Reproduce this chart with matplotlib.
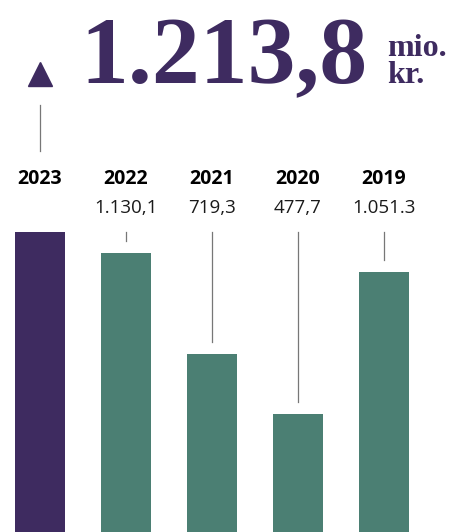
import matplotlib
matplotlib.use("Agg")
import matplotlib.pyplot as plt

# data
years = ["2023", "2022", "2021", "2020", "2019"]
values = [1213.8, 1130.1, 719.3, 477.7, 1051.3]
value_labels = ["", "1.130,1", "719,3", "477,7", "1.051.3"]
headline = "1.213,8"
unit = "mio.\nkr."

purple = "#3e2b60"
teal = "#4b7f73"
colors = [purple] + [teal] * 4

W, H = 464, 532
fig = plt.figure(figsize=(W / 100, H / 100), dpi=100)
ax = fig.add_axes([0, 0, 1, 1])
ax.set_axis_off()

px_per_unit = 300 / 1213.8  # 2023 bar is ~300px tall
ax.set_xlim(-40 / 86, (W - 40) / 86)
ax.set_ylim(0, H / px_per_unit)

x = list(range(len(years)))
ax.bar(x, values, width=0.58, color=colors)


def fy(py):  # pixel y (from top) -> figure fraction
    return 1 - py / H


def dy(py):  # pixel y (from top) -> data y
    return (H - py) / px_per_unit


# year labels, value labels, connector lines
for i, (yr, v, lab) in enumerate(zip(years, values, value_labels)):
    ax.text(i, dy(179), yr, ha="center", va="center", fontsize=14,
            fontweight="bold", family="Open Sans", color="black")
    if lab:
        ax.text(i, dy(208), lab, ha="center", va="center", fontsize=13.5,
                family="Open Sans", color="#1a1a1a")
        ax.plot([i, i], [dy(232), v + 12 / px_per_unit], color="#777777", lw=0.9)

# line + triangle for current year
ax.plot([0, 0], [dy(105), dy(151)], color="#777777", lw=0.9)
ax.plot(0, dy(74), marker="^", ms=17, color=purple, mec=purple)

# headline number
fig.text(80 / W, fy(83), headline, fontsize=69, fontweight="bold",
         family="Liberation Serif", color=purple, ha="left", va="baseline")
fig.text(387 / W, fy(83), unit, fontsize=23, fontweight="bold",
         family="Liberation Serif", color=purple, ha="left", va="baseline",
         linespacing=0.9)

fig.savefig("out.png", dpi=100)
